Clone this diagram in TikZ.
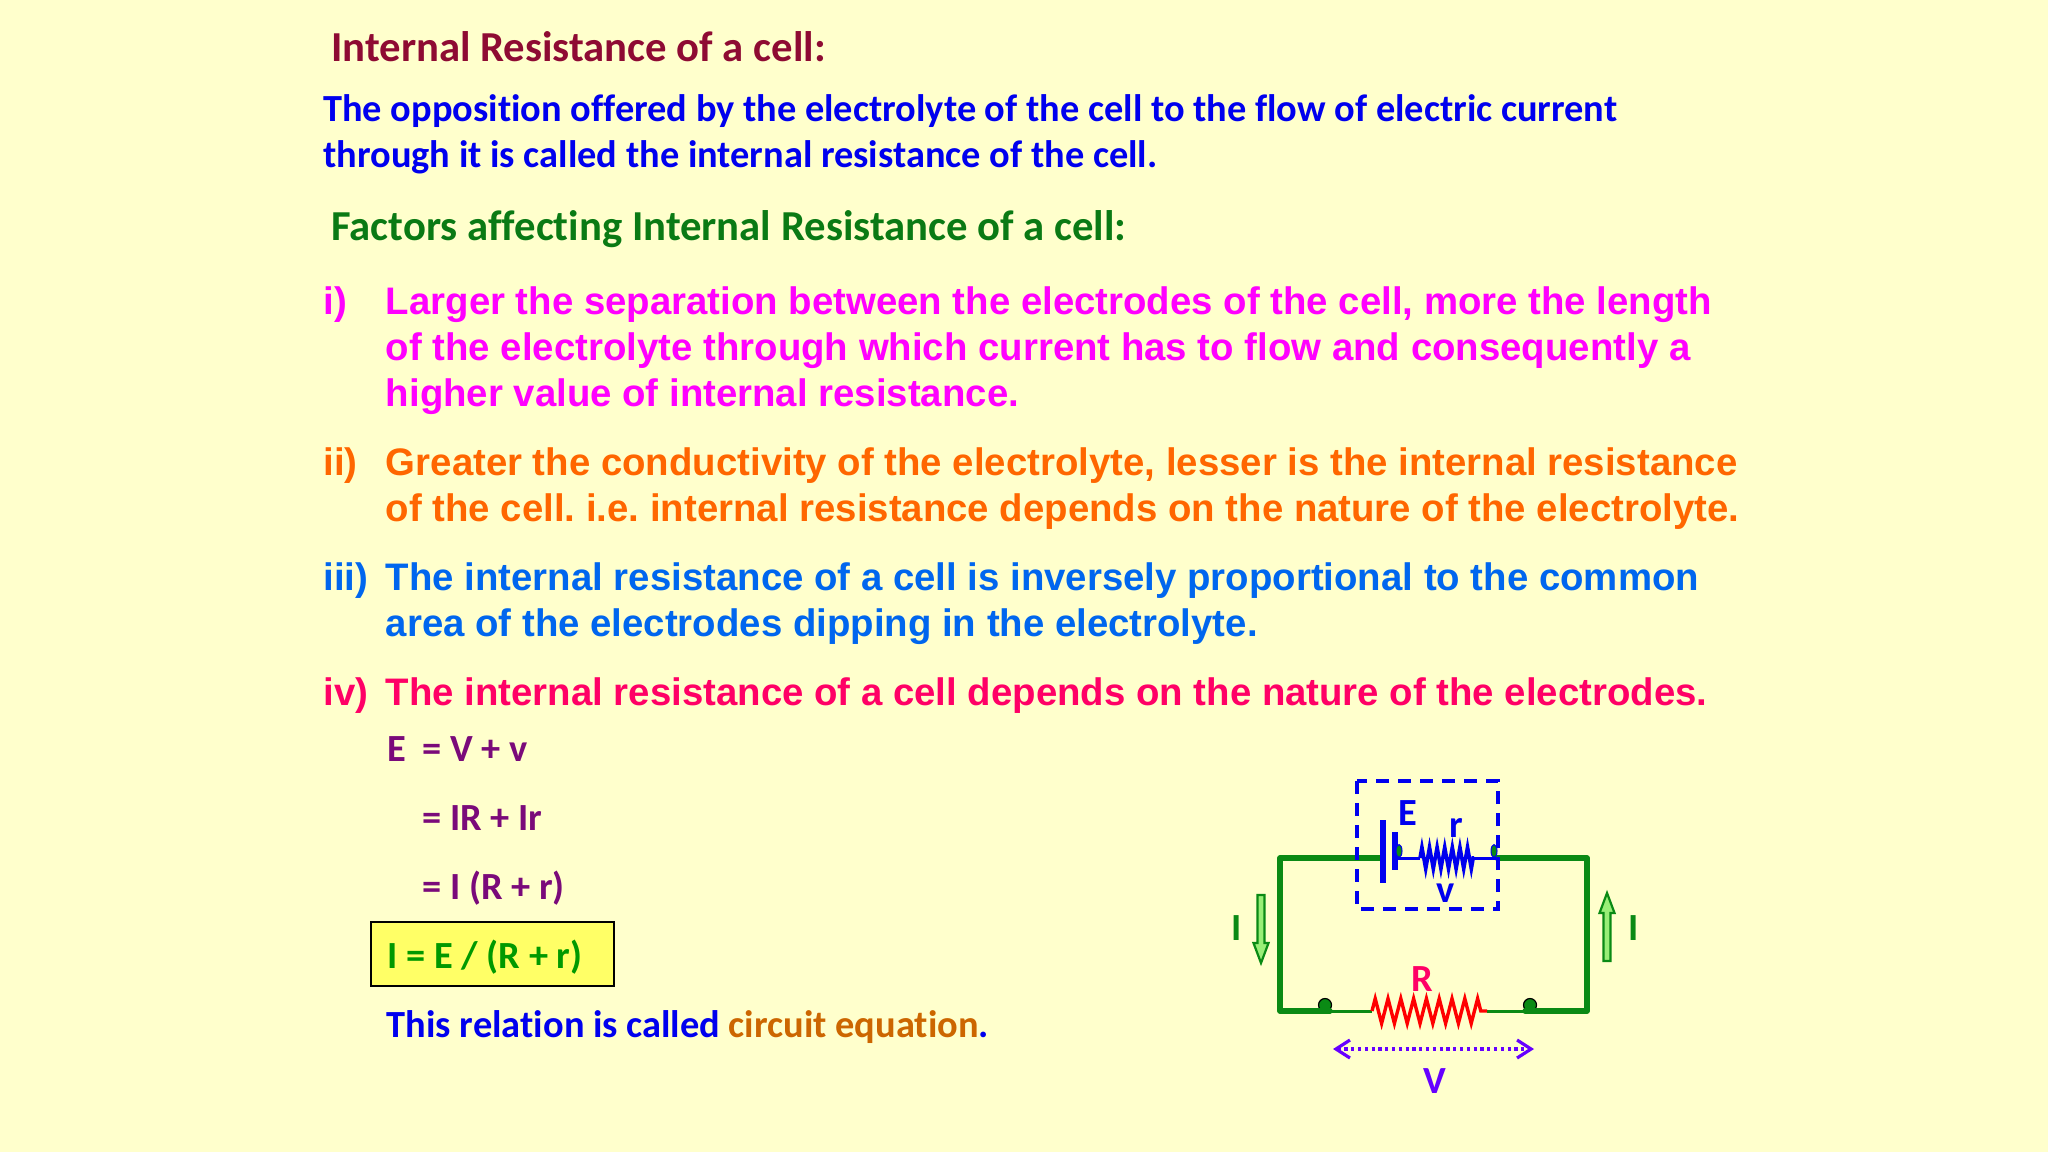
\documentclass[tikz,border=0pt]{standalone}
\usepackage{fontspec}
\setmainfont{Carlito}[Ligatures=NoCommon]
\newfontfamily\arialfont{Liberation Sans}
\usetikzlibrary{arrows.meta,decorations.pathmorphing,shapes.geometric}
\definecolor{paper}{HTML}{FFFFCC}
\definecolor{boxyellow}{HTML}{FFFF66}
\definecolor{titlered}{HTML}{8E0B33}
\definecolor{deepblue}{HTML}{0000EE}
\definecolor{headgreen}{HTML}{0A7A14}
\definecolor{itemmagenta}{HTML}{FF00FF}
\definecolor{itemorange}{HTML}{FF6600}
\definecolor{itemblue}{HTML}{0066EE}
\definecolor{itemred}{HTML}{FF0066}
\definecolor{eqpurple}{HTML}{7A0A7A}
\definecolor{eqgreen}{HTML}{009900}
\definecolor{brownish}{HTML}{CC6600}
\definecolor{wiregreen}{HTML}{0A8A14}
\definecolor{voltviolet}{HTML}{6600FF}
\definecolor{arrowfill}{HTML}{99EE77}
\tikzset{
 head/.style={anchor=base west,inner sep=0pt,font=\fontsize{21.35}{25}\selectfont\bfseries},
 para/.style={anchor=base west,inner sep=0pt,font=\fontsize{19.18}{22}\selectfont\bfseries,text=deepblue},
 item/.style={anchor=base west,inner sep=0pt,font=\arialfont\fontsize{19.18}{22}\selectfont\bfseries},
 eqn/.style={anchor=base west,inner sep=0pt,font=\fontsize{19.2}{22}\selectfont\bfseries,text=eqpurple},
 sym/.style={anchor=base,inner sep=0pt,font=\fontsize{19.2}{22}\selectfont\bfseries},
 wire/.style={draw=wiregreen,line width=2.6pt,line cap=round,line join=round},
 thinwire/.style={draw=wiregreen,line width=1.5pt},
 terminal/.style={circle,draw=black,fill=wiregreen,line width=.6pt,minimum size=6.5pt,inner sep=0pt},
 cellend/.style={ellipse,draw=deepblue,fill=wiregreen,line width=.5pt,minimum width=3pt,minimum height=6.5pt,inner sep=0pt},
 current/.style={draw=wiregreen,fill=arrowfill,line width=1.1pt},
}
\begin{document}
\frenchspacing
\begin{tikzpicture}[x=.5pt,y=-.5pt]
\fill[paper] (0,0) rectangle (2048,1152);
% text
\node[head,text=titlered] (title) at (331,61) {Internal Resistance of a cell:};
\node[para] (defa) at (323,121) {The opposition offered by the electrolyte of the cell to the flow of electric current};
\node[para] (defb) at (323,167) {through it is called the internal resistance of the cell.};
\node[head,text=headgreen] (factors) at (331,240) {Factors affecting Internal Resistance of a cell:};
\foreach \n/\x/\y/\c/\t in {
 ia/323/314/itemmagenta/{i)},
 ib/385.5/314/itemmagenta/{Larger the separation between the electrodes of the cell, more the length},
 ic/385.5/360/itemmagenta/{of the electrolyte through which current has to flow and consequently a},
 id/385.5/406/itemmagenta/{higher value of internal resistance.},
 iia/323/475/itemorange/{ii)},
 iib/385.5/475/itemorange/{Greater the conductivity of the electrolyte, lesser is the internal resistance},
 iic/385.5/521/itemorange/{of the cell. i.e. internal resistance depends on the nature of the electrolyte.},
 iiia/323/590/itemblue/{iii)},
 iiib/385.5/590/itemblue/{The internal resistance of a cell is inversely proportional to the common},
 iiic/385.5/636/itemblue/{area of the electrodes dipping in the electrolyte.},
 iva/323/705/itemred/{iv)},
 ivb/385.5/705/itemred/{The internal resistance of a cell depends on the nature of the electrodes.}}
 \node[item,text=\c] (\n) at (\x,\y) {\t};
% equations
\node[eqn] (eqa) at (387,761) {E};
\node[eqn] (eqb) at (422,761) {= V + v};
\node[eqn] (eqc) at (422,830) {= IR + Ir};
\node[eqn] (eqd) at (422,899) {= I (R + r)};
\draw[black,line width=.8pt,fill=boxyellow] (371,922) rectangle (614,986);
\node[eqn,text=eqgreen] (eqe) at (387,968) {I = E / (R + r)};
\node[eqn,text=deepblue] (note) at (386.5,1037) {This relation is called \textcolor{brownish}{circuit equation}.};
% circuit
\coordinate (tl) at (1280,858);
\coordinate (tr) at (1587,858);
\coordinate (bl) at (1280,1011);
\coordinate (br) at (1587,1011);
\coordinate (platea) at (1383,858);
\coordinate (plateb) at (1395,858);
\coordinate (cella) at (1420,858);
\coordinate (cellb) at (1474,858);
\coordinate (cellc) at (1497,858);
\coordinate (ra) at (1372,1011);
\coordinate (rb) at (1487,1011);
\node[terminal] (da) at (1325,1005) {};
\node[terminal] (db) at (1530,1005) {};
\draw[wire] (platea) -- (tl) -- (bl) -- (da.south east |- bl);
\draw[wire] (cellc) -- (tr) -- (br) -- (db.south west |- br);
\draw[thinwire] (da.south east |- bl) -- (ra);
\draw[thinwire] (rb) -- (db.south west |- br);
\draw[red,line width=1.7pt,decorate,decoration={zigzag,segment length=6.4pt,amplitude=6.2pt}] (ra) -- (rb);
% cell
\draw[deepblue,line width=1.5pt] (plateb) -- (cella);
\draw[deepblue,line width=1.5pt] (cellb) -- (cellc);
\draw[deepblue,line width=1.8pt,decorate,decoration={zigzag,segment length=3.8pt,amplitude=5.4pt}] (cella) -- (cellb);
\draw[deepblue,line width=2.8pt] (1383,820) -- (1383,883);
\draw[deepblue,line width=2.8pt] (1395,832) -- (1395,870);
\draw[deepblue,line width=1.6pt,dash pattern=on 6.5pt off 4.5pt] (1357,781) rectangle (1498,909);
\node[cellend] (ea) at (1399,851) {};
\node[cellend] (eb) at (1494,851) {};
\node[sym,text=deepblue] (lE) at (1408,825) {E};
\node[sym,text=deepblue] (lr) at (1456,837) {r};
\node[sym,text=deepblue] (lv) at (1446,902) {v};
\node[sym,text=itemred] (lR) at (1422,991) {R};
% current and voltage
\draw[current,shift={(1261,895)}] (-3.5,0) -- (3.5,0) -- (3.5,48) -- (7.5,48) -- (0,68) -- (-7.5,48) -- (-3.5,48) -- cycle;
\draw[current,shift={(1607,961)},yscale=-1] (-3.5,0) -- (3.5,0) -- (3.5,48) -- (7.5,48) -- (0,68) -- (-7.5,48) -- (-3.5,48) -- cycle;
\node[sym,text=wiregreen] (lia) at (1237,940) {I};
\node[sym,text=wiregreen] (lib) at (1634,940) {I};
\coordinate (va) at (1333,1049);
\coordinate (vb) at (1534,1049);
\draw[voltviolet,line width=1.6pt,dash pattern=on 1.6pt off 1.8pt,{Straight Barb[length=7pt,width=9pt]}-{Straight Barb[length=7pt,width=9pt]}] (va) -- (vb);
\node[sym,text=voltviolet] (lV) at (1435,1093) {V};
\end{tikzpicture}
\end{document}
